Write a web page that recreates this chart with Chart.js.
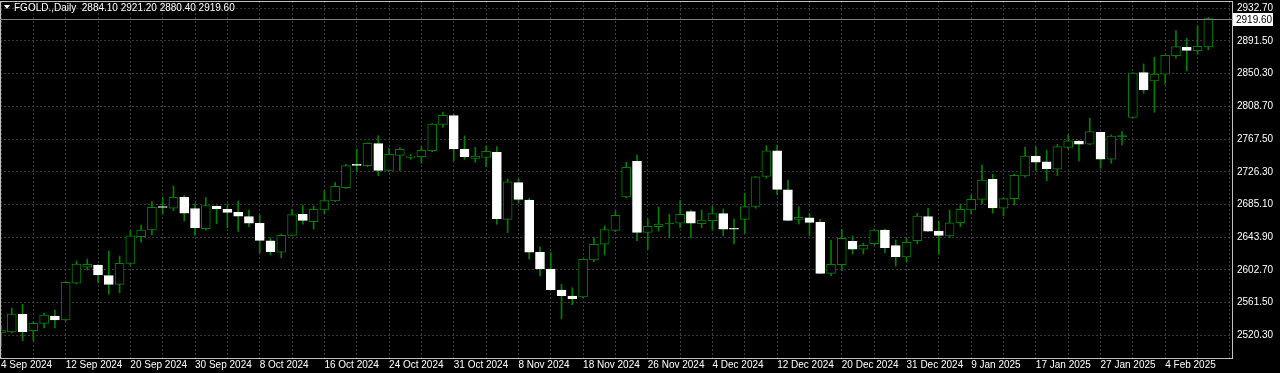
<!DOCTYPE html>
<html>
<head>
<meta charset="utf-8">
<script src="https://cdn.jsdelivr.net/npm/chart.js@4/dist/chart.umd.min.js"></script>
<style>
html, body { margin: 0; padding: 0; background: #000; }
#chart { display: block; }
</style>
</head>
<body>
<canvas id="chart" width="1280" height="373"></canvas>
<script>
const ctx = document.getElementById("chart");

const title = "FGOLD.,Daily";

// one entry per daily bar, 4 Sep 2024 .. 7 Feb 2025
const opens = [
  2523.2, 2524.5, 2546.8, 2526.1, 2535.4, 2544.6, 2539.6, 2585.9, 2606.1, 2609.0,
  2595.5, 2584.6, 2611.1, 2644.7, 2653.1, 2682.0, 2680.5, 2694.3, 2680.2, 2654.7,
  2683.1, 2679.2, 2675.4, 2669.9, 2661.6, 2639.6, 2625.0, 2646.4, 2672.9, 2663.6,
  2678.3, 2689.7, 2706.5, 2735.3, 2734.2, 2762.0, 2728.4, 2747.3, 2744.8, 2745.6,
  2753.1, 2786.4, 2797.5, 2755.3, 2743.5, 2744.8, 2751.1, 2666.6, 2712.8, 2690.9,
  2625.0, 2603.9, 2577.4, 2569.9, 2568.6, 2615.3, 2635.1, 2652.7, 2694.7, 2739.8,
  2650.2, 2657.3, 2660.7, 2661.6, 2676.2, 2661.1, 2664.8, 2673.7, 2654.2, 2666.6,
  2683.0, 2720.8, 2753.1, 2703.9, 2666.6, 2668.6, 2662.8, 2598.5, 2609.3, 2638.9,
  2628.8, 2635.8, 2653.1, 2633.3, 2619.1, 2639.6, 2669.9, 2651.8, 2645.5, 2662.3,
  2678.3, 2691.8, 2717.0, 2680.5, 2692.6, 2721.2, 2746.4, 2739.2, 2729.8, 2757.4,
  2765.4, 2761.2, 2776.3, 2742.3, 2770.8, 2795.2, 2851.5, 2841.0, 2849.5, 2872.9,
  2883.5, 2879.2, 2884.1
];
const highs = [
  2530.8, 2554.7, 2559.4, 2537.5, 2548.4, 2552.2, 2587.9, 2614.0, 2616.5, 2609.5,
  2626.6, 2620.3, 2651.8, 2659.4, 2688.8, 2694.7, 2708.6, 2696.6, 2686.5, 2694.1,
  2683.8, 2685.9, 2689.7, 2678.3, 2672.0, 2643.4, 2648.1, 2679.2, 2683.8, 2683.4,
  2702.7, 2712.8, 2736.0, 2755.3, 2762.9, 2772.0, 2756.1, 2756.9, 2748.6, 2758.2,
  2787.3, 2801.9, 2799.0, 2771.7, 2757.4, 2759.1, 2758.2, 2717.4, 2717.0, 2693.1,
  2632.0, 2624.5, 2584.6, 2580.3, 2616.5, 2643.4, 2658.2, 2677.1, 2738.5, 2747.7,
  2666.6, 2682.1, 2672.9, 2690.1, 2678.3, 2678.3, 2682.5, 2679.6, 2667.0, 2699.4,
  2720.8, 2759.4, 2760.3, 2716.2, 2682.5, 2674.2, 2666.6, 2640.5, 2654.0, 2645.5,
  2636.7, 2654.4, 2654.4, 2640.5, 2643.0, 2674.2, 2680.5, 2664.5, 2678.3, 2685.9,
  2697.3, 2735.1, 2723.4, 2693.8, 2723.7, 2757.4, 2758.2, 2754.0, 2761.2, 2772.9,
  2765.8, 2794.0, 2776.8, 2772.9, 2777.1, 2851.6, 2862.5, 2870.9, 2873.9, 2904.5,
  2894.9, 2910.4, 2921.2
];
const lows = [
  2508.1, 2523.2, 2513.5, 2513.5, 2529.5, 2529.5, 2538.7, 2585.0, 2602.7, 2586.6,
  2572.0, 2574.0, 2609.0, 2637.6, 2646.8, 2673.3, 2677.4, 2664.5, 2646.2, 2652.7,
  2661.3, 2656.0, 2651.2, 2657.3, 2623.7, 2621.6, 2618.2, 2645.5, 2660.3, 2654.0,
  2674.2, 2688.8, 2705.7, 2726.6, 2732.9, 2721.6, 2727.5, 2727.9, 2742.3, 2737.2,
  2751.9, 2782.6, 2740.5, 2742.3, 2738.5, 2732.9, 2660.3, 2649.7, 2686.8, 2616.5,
  2595.1, 2577.3, 2541.2, 2558.9, 2567.7, 2613.1, 2621.6, 2651.0, 2693.8, 2639.6,
  2628.8, 2651.8, 2643.4, 2656.0, 2643.4, 2656.0, 2653.1, 2645.5, 2635.5, 2648.9,
  2680.5, 2718.3, 2697.3, 2664.8, 2660.7, 2645.5, 2598.0, 2595.5, 2601.8, 2622.8,
  2622.8, 2634.2, 2624.5, 2607.7, 2613.1, 2635.5, 2651.0, 2622.8, 2643.4, 2657.3,
  2673.3, 2685.9, 2674.2, 2670.8, 2684.6, 2719.6, 2727.9, 2715.3, 2721.6, 2755.3,
  2740.1, 2760.7, 2730.9, 2737.2, 2760.3, 2794.0, 2825.5, 2801.6, 2837.2, 2869.7,
  2854.0, 2874.7, 2880.4
];
const closes = [
  2527.0, 2547.2, 2524.8, 2535.4, 2545.9, 2539.6, 2587.1, 2610.2, 2609.8, 2596.4,
  2584.6, 2611.1, 2645.9, 2653.1, 2681.7, 2681.5, 2694.3, 2674.2, 2656.0, 2684.0,
  2679.6, 2675.4, 2670.5, 2661.6, 2640.1, 2625.7, 2646.4, 2672.4, 2665.3, 2679.2,
  2690.1, 2708.2, 2734.2, 2734.6, 2762.5, 2728.4, 2748.6, 2754.9, 2746.4, 2753.6,
  2786.8, 2797.8, 2755.3, 2745.6, 2746.4, 2752.4, 2667.4, 2714.0, 2691.8, 2625.0,
  2604.3, 2577.8, 2570.2, 2566.5, 2616.2, 2635.1, 2653.7, 2671.6, 2732.2, 2650.2,
  2657.8, 2660.7, 2660.9, 2672.9, 2661.6, 2665.7, 2673.7, 2654.0, 2654.0, 2682.5,
  2720.3, 2753.1, 2704.4, 2665.3, 2669.1, 2662.8, 2598.5, 2609.8, 2642.6, 2628.8,
  2633.8, 2653.1, 2630.8, 2619.4, 2637.6, 2670.8, 2651.5, 2646.4, 2662.3, 2679.2,
  2691.8, 2716.2, 2680.9, 2692.6, 2722.1, 2746.4, 2738.5, 2730.4, 2758.2, 2765.7,
  2761.2, 2777.1, 2742.3, 2771.7, 2770.8, 2851.1, 2829.7, 2849.9, 2873.4, 2884.3,
  2879.7, 2884.6, 2919.6
];

// date labels, one every 6 bars
const dateLabels = [
  "4 Sep 2024", "12 Sep 2024", "20 Sep 2024", "30 Sep 2024", "8 Oct 2024",
  "16 Oct 2024", "24 Oct 2024", "31 Oct 2024", "8 Nov 2024", "18 Nov 2024",
  "26 Nov 2024", "4 Dec 2024", "12 Dec 2024", "20 Dec 2024", "31 Dec 2024",
  "9 Jan 2025", "17 Jan 2025", "27 Jan 2025", "4 Feb 2025"
];
const priceTicks = [2520.3, 2561.5, 2602.7, 2643.9, 2685.1, 2726.3, 2767.5, 2808.7, 2850.3, 2891.5, 2932.7];
const priceLabels = ["2520.30", "2561.50", "2602.70", "2643.90", "2685.10", "2726.30", "2767.50", "2808.70", "2850.30", "2891.50", "2932.70"];

const GREEN = "#008000";
const FONT = '"Liberation Sans", Arial, sans-serif';

const wicks = lows.map((l, i) => ({ x: i, y: [l, highs[i]] }));
const bodies = opens.map((o, i) => ({ x: i, y: [o, closes[i]] }));
const bodyFill = opens.map((o, i) => {
  const up = closes[i] >= o;
  if (Math.abs(closes[i] - o) < 0.6) return up ? GREEN : "#ffffff";
  return up ? "#000000" : "#ffffff";
});
const bodyBorder = opens.map((o, i) => (closes[i] >= o ? GREEN : "#ffffff"));

// no auto padding, keep the plot box fixed
function noPad(scale) {
  scale.paddingLeft = 0;
  scale.paddingRight = 0;
  scale.paddingTop = 0;
  scale.paddingBottom = 0;
}

const overlay = {
  id: "overlay",
  afterDatasetsDraw(chart) {
    const c = chart.ctx;
    const a = chart.chartArea;
    const y = chart.scales.y;
    c.save();
    // frame
    c.strokeStyle = "#c0c0c0";
    c.lineWidth = 1;
    c.strokeRect(a.left + 0.5, a.top + 0.5, a.right - a.left - 1, a.bottom - a.top);
    // last price line
    const last = closes[closes.length - 1];
    const py = Math.round(y.getPixelForValue(last)) + 0.5;
    c.strokeStyle = "#808080";
    c.beginPath();
    c.moveTo(a.left, py);
    c.lineTo(a.right, py);
    c.stroke();
    c.fillStyle = "#ffffff";
    c.fillRect(a.right, py - 6.5, 40, 13);
    c.fillStyle = "#000000";
    c.font = "10px " + FONT;
    c.textBaseline = "middle";
    c.fillText(last.toFixed(2), a.right + 3, py + 0.5);
    // header
    c.fillStyle = "#ffffff";
    c.beginPath();
    c.moveTo(4, 5);
    c.lineTo(10, 5);
    c.lineTo(7, 9);
    c.closePath();
    c.fill();
    c.font = "10px " + FONT;
    const n = closes.length - 1;
    const vals = [opens[n], highs[n], lows[n], closes[n]].map(v => v.toFixed(2)).join(" ");
    c.fillText(title + "  " + vals, 14, 8);
    c.restore();
  }
};

new Chart(ctx, {
  type: "bar",
  data: {
    datasets: [
      {
        label: "body",
        data: bodies,
        backgroundColor: bodyFill,
        borderColor: bodyBorder,
        borderWidth: 1,
        borderSkipped: false,
        barThickness: 9,
        minBarLength: 1,
        grouped: false,
        order: 0
      },
      {
        label: "wick",
        data: wicks,
        backgroundColor: GREEN,
        borderWidth: 0,
        barThickness: 1,
        grouped: false,
        order: 1
      }
    ]
  },
  options: {
    responsive: false,
    animation: false,
    layout: { padding: { top: 1, left: 0, right: 0, bottom: 0 } },
    plugins: { legend: { display: false }, tooltip: { enabled: false } },
    scales: {
      x: {
        type: "linear",
        offset: false,
        min: -0.093,
        max: 114.29,
        afterBuildTicks(scale) {
          const t = [];
          for (let i = 0; i <= 114; i += 3) t.push({ value: i });
          scale.ticks = t;
        },
        afterFit(scale) { scale.height = 15; noPad(scale); },
        grid: { color: "#3a3a3a", drawTicks: false, offset: false },
        border: { display: false, dash: [2, 2] },
        ticks: {
          color: "#ffffff",
          font: { family: FONT, size: 10 },
          align: "start",
          autoSkip: false,
          maxRotation: 0,
          padding: 1,
          callback: (v) => (v % 6 === 0 ? dateLabels[v / 6] || "" : "")
        }
      },
      y: {
        position: "right",
        min: 2491.67,
        max: 2941.92,
        afterBuildTicks(scale) {
          scale.ticks = priceTicks.map(v => ({ value: v }));
        },
        afterFit(scale) { scale.width = 47; noPad(scale); },
        grid: { color: "#3a3a3a", drawTicks: false },
        border: { display: false, dash: [2, 2] },
        ticks: {
          color: "#ffffff",
          font: { family: FONT, size: 10 },
          padding: 4,
          callback: (v, i) => priceLabels[i]
        }
      }
    }
  },
  plugins: [overlay]
});
</script>
</body>
</html>
